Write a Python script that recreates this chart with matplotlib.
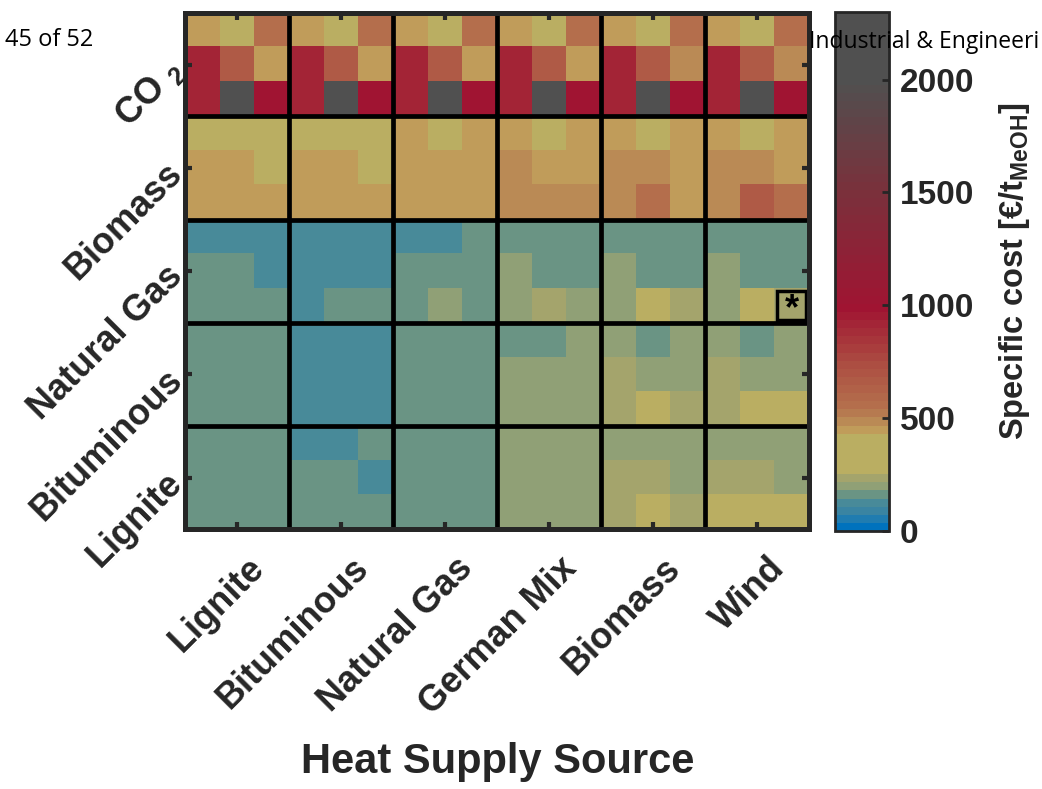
import numpy as np
import matplotlib
matplotlib.use("Agg")
from matplotlib import pyplot as plt
from matplotlib.colors import ListedColormap
from matplotlib.patches import Rectangle
from matplotlib.transforms import ScaledTranslation

plt.rcParams['font.family'] = ['Liberation Sans', 'DejaVu Sans']
plt.rcParams['font.weight'] = 'bold'
plt.rcParams['mathtext.fontset'] = 'custom'
plt.rcParams['mathtext.rm'] = 'Liberation Sans:bold'
plt.rcParams['mathtext.bf'] = 'Liberation Sans:bold'
plt.rcParams['mathtext.it'] = 'Liberation Sans:bold'

DARK = '#262626'

heat_sources = ['Lignite', 'Bituminous', 'Natural Gas', 'German Mix', 'Biomass', 'Wind']
carbon_sources = ['CO $_\\mathbf{2}$', 'Biomass', 'Natural Gas', 'Bituminous', 'Lignite']

# specific cost [EUR/t MeOH], 3 rows per carbon source, 3 columns per heat source
co2_rows = [
    [450, 340, 560,  450, 340, 560,  450, 340, 560,  450, 340, 560,  450, 340, 560,  450, 340, 560],
    [920, 680, 450,  920, 680, 450,  920, 680, 450,  920, 680, 450,  920, 680, 480,  920, 680, 480],
    [920, 2150, 1000, 920, 2150, 1000, 920, 2150, 1000, 920, 2150, 1000, 920, 2150, 1000, 920, 2150, 1000],
]
biomass_rows = [
    [340, 340, 340,  340, 340, 340,  450, 340, 450,  450, 340, 450,  450, 340, 450,  450, 340, 450],
    [450, 450, 340,  450, 450, 340,  450, 450, 450,  490, 450, 450,  490, 490, 450,  490, 490, 450],
    [450, 450, 450,  450, 450, 450,  450, 450, 450,  490, 490, 490,  490, 560, 450,  490, 660, 560],
]
natgas_rows = [
    [120, 120, 120,  120, 120, 120,  120, 120, 160,  160, 160, 160,  160, 160, 160,  160, 160, 160],
    [160, 160, 120,  120, 120, 120,  160, 160, 160,  195, 160, 160,  195, 160, 160,  195, 160, 160],
    [160, 160, 160,  120, 160, 160,  160, 195, 160,  195, 230, 195,  195, 300, 230,  195, 300, 230],
]
bituminous_rows = [
    [160, 160, 160,  120, 120, 120,  160, 160, 160,  160, 160, 195,  195, 160, 195,  195, 160, 195],
    [160, 160, 160,  120, 120, 120,  160, 160, 160,  195, 195, 195,  230, 195, 195,  230, 195, 195],
    [160, 160, 160,  120, 120, 120,  160, 160, 160,  195, 195, 195,  230, 300, 230,  230, 300, 300],
]
lignite_rows = [
    [160, 160, 160,  120, 120, 160,  160, 160, 160,  195, 195, 195,  195, 195, 195,  195, 195, 195],
    [160, 160, 160,  160, 160, 120,  160, 160, 160,  195, 195, 195,  230, 230, 195,  230, 230, 195],
    [160, 160, 160,  160, 160, 160,  160, 160, 160,  195, 195, 195,  230, 300, 230,  300, 300, 300],
]
best_cell = (8, 17)  # marked with *

cost = np.array(co2_rows + biomass_rows + natgas_rows + bituminous_rows + lignite_rows, dtype=float)

# banded colormap, 64 steps
anchors = [
    (0, (0, 114, 189)), (1, (32, 124, 176)), (2, (58, 132, 162)), (3, (72, 138, 153)),
    (4, (106, 148, 132)), (5, (144, 160, 118)), (6, (164, 164, 108)), (7, (186, 174, 98)),
    (11, (186, 174, 98)), (12, (192, 156, 90)), (13, (186, 138, 85)), (14, (182, 122, 80)),
    (15, (180, 110, 76)), (20, (172, 78, 66)), (27, (160, 20, 50)), (42, (120, 50, 60)),
    (55, (80, 80, 80)), (63, (80, 80, 80)),
]
idx = [a[0] for a in anchors]
cols = np.array([a[1] for a in anchors]) / 255.0
steps = np.arange(64)
cmap = ListedColormap(np.column_stack([np.interp(steps, idx, cols[:, k]) for k in range(3)]))

fig = plt.figure(figsize=(10.42, 7.89), dpi=100)
ax = fig.add_axes([0.178, 0.329, 0.5984, 0.6546])
im = ax.imshow(cost, cmap=cmap, vmin=0, vmax=2300, aspect='auto', interpolation='nearest')

for k in range(1, 6):
    ax.axvline(3 * k - 0.5, color='black', lw=3.4)
for k in range(1, 5):
    ax.axhline(3 * k - 0.5, color='black', lw=3.4)

r, c = best_cell
ax.add_patch(Rectangle((c - 0.42, r - 0.42), 0.84, 0.84, fill=False, ec='black', lw=2.5))
ax.text(c, r + 0.12, '*', ha='center', va='center', fontsize=26, fontweight='bold', color='black')

ax.set_xticks(np.arange(1, 18, 3))
ax.set_yticks(np.arange(1, 15, 3))
ax.set_xticklabels(heat_sources, rotation=45, ha='right', va='center', rotation_mode='anchor',
                   fontsize=26, fontweight='bold', color=DARK)
ax.set_yticklabels(carbon_sources, rotation=45, ha='right', va='center', rotation_mode='anchor',
                   fontsize=26, fontweight='bold', color=DARK)
ax.tick_params(axis='x', direction='in', length=5, width=3, color=DARK, pad=24, top=True)
ax.tick_params(axis='y', direction='in', length=5, width=3, color=DARK, pad=6, right=True)
shift = ScaledTranslation(0.22, 0.0, fig.dpi_scale_trans)
for lab in ax.get_xticklabels():
    lab.set_transform(lab.get_transform() + shift)
for s in ax.spines.values():
    s.set_linewidth(3.6)
    s.set_color(DARK)
ax.set_xlabel('Heat Supply Source', fontsize=30, fontweight='bold', color=DARK, labelpad=15)

cax = fig.add_axes([0.8013, 0.327, 0.0518, 0.658])
cb = fig.colorbar(im, cax=cax, ticks=[0, 500, 1000, 1500, 2000])
cb.outline.set_linewidth(2)
cb.outline.set_edgecolor(DARK)
cax.tick_params(direction='in', length=5, width=2, color=DARK, pad=8)
for t in cax.get_yticklabels():
    t.set_fontsize(24)
    t.set_fontweight('bold')
    t.set_color(DARK)
cb.set_label('Specific cost [€/t$_\\mathbf{MeOH}$]', fontsize=23.5, fontweight='bold', color=DARK, labelpad=16)

fig.text(0.005, 0.949, '45 of 52', family='Open Sans', fontweight='normal', fontsize=17, color='black', va='center')
fig.text(0.776, 0.947, 'Industrial & Engineeri', family='Open Sans', fontweight='normal', fontsize=16.5,
         color='black', va='center')

fig.savefig('out.png', dpi=100)
